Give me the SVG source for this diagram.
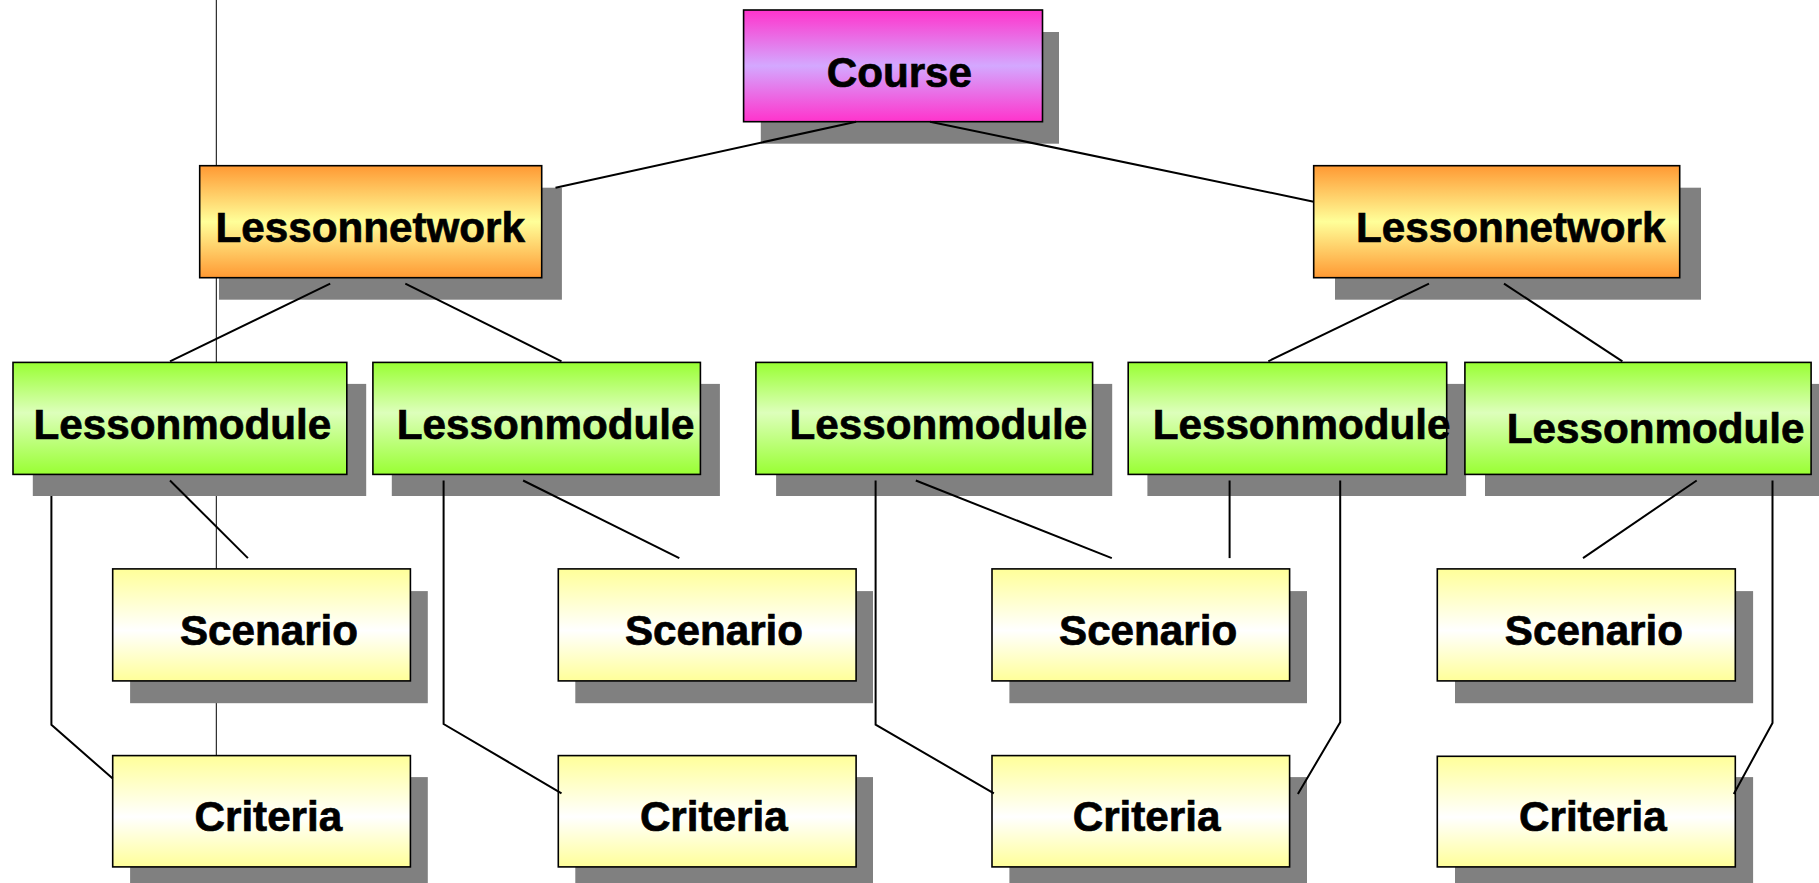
<svg xmlns="http://www.w3.org/2000/svg" width="1819" height="883" viewBox="0 0 1819 883">
<defs>
<linearGradient id="gCourse" x1="0" y1="0" x2="0" y2="1">
<stop offset="0" stop-color="#FF33CC"/><stop offset="0.5" stop-color="#D4A8FF"/><stop offset="1" stop-color="#FF33CC"/>
</linearGradient>
<linearGradient id="gNet" x1="0" y1="0" x2="0" y2="1">
<stop offset="0" stop-color="#FF9933"/><stop offset="0.5" stop-color="#FFFF99"/><stop offset="1" stop-color="#FF9933"/>
</linearGradient>
<linearGradient id="gMod" x1="0" y1="0" x2="0" y2="1">
<stop offset="0" stop-color="#99FF33"/><stop offset="0.45" stop-color="#DDFFBB"/><stop offset="1" stop-color="#99FF33"/>
</linearGradient>
<linearGradient id="gLeaf" x1="0" y1="0" x2="0" y2="1">
<stop offset="0" stop-color="#FFFF99"/><stop offset="0.55" stop-color="#FFFFFF"/><stop offset="1" stop-color="#FFFF99"/>
</linearGradient>
</defs>
<style>
.sh{fill:#808080}
.bx{stroke:#000;stroke-width:1.6}
.t{font-family:"Liberation Sans",Arial,sans-serif;font-weight:bold;font-size:42.2px;fill:#000;stroke:#000;stroke-width:0.7}
.c line,.c polyline{stroke:#000;stroke-width:2;fill:none}
</style>
<rect width="1819" height="883" fill="#fff"/>
<line x1="216.3" y1="0" x2="216.3" y2="883" stroke="#000" stroke-width="1"/>

<g id="course">
<rect class="sh" x="760.8" y="32" width="298.2" height="111.7"/>
<rect class="bx" x="743.6" y="10" width="298.9" height="111.7" fill="url(#gCourse)"/>
<text class="t" x="826.7" y="87.3">Course</text>
</g>

<g id="lessonnetwork1">
<rect class="sh" x="219" y="187.7" width="342.9" height="112"/>
<rect class="bx" x="199.7" y="165.7" width="342" height="112" fill="url(#gNet)"/>
<text class="t" x="215.5" y="242.3">Lessonnetwork</text>
</g>
<g id="lessonnetwork2">
<rect class="sh" x="1335" y="187.7" width="366" height="112"/>
<rect class="bx" x="1313.7" y="165.7" width="366" height="112" fill="url(#gNet)"/>
<text class="t" x="1356" y="242.3">Lessonnetwork</text>
</g>

<g id="lessonmodule1">
<rect class="sh" x="32.8" y="383.9" width="333.4" height="112.1"/>
<rect class="bx" x="13" y="362.4" width="333.8" height="112" fill="url(#gMod)"/>
<text class="t" x="33.6" y="438.5">Lessonmodule</text>
</g>
<g id="lessonmodule2">
<rect class="sh" x="391.8" y="383.9" width="328.1" height="112.1"/>
<rect class="bx" x="372.9" y="362.4" width="327.5" height="112" fill="url(#gMod)"/>
<text class="t" x="396.8" y="438.5">Lessonmodule</text>
</g>
<g id="lessonmodule3">
<rect class="sh" x="776.1" y="383.9" width="336.1" height="112.1"/>
<rect class="bx" x="755.9" y="362.4" width="336.7" height="112" fill="url(#gMod)"/>
<text class="t" x="789.5" y="438.5">Lessonmodule</text>
</g>
<g id="lessonmodule4">
<rect class="sh" x="1147.4" y="383.9" width="318.7" height="112.1"/>
<rect class="bx" x="1128.2" y="362.4" width="318.5" height="112" fill="url(#gMod)"/>
<text class="t" x="1152.7" y="438.5">Lessonmodule</text>
</g>
<g id="lessonmodule5">
<rect class="sh" x="1485" y="383.9" width="340" height="112.1"/>
<rect class="bx" x="1464.9" y="362.4" width="346.2" height="112" fill="url(#gMod)"/>
<text class="t" x="1506.8" y="443.2">Lessonmodule</text>
</g>

<g id="scenario1">
<rect class="sh" x="130.1" y="591.1" width="297.7" height="112.1"/>
<rect class="bx" x="112.7" y="568.9" width="297.7" height="112" fill="url(#gLeaf)"/>
<text class="t" x="179.9" y="645">Scenario</text>
</g>
<g id="scenario2">
<rect class="sh" x="575.3" y="591.1" width="297.7" height="112.1"/>
<rect class="bx" x="558.3" y="568.9" width="297.8" height="112" fill="url(#gLeaf)"/>
<text class="t" x="624.9" y="645">Scenario</text>
</g>
<g id="scenario3">
<rect class="sh" x="1009.4" y="591.1" width="297.6" height="112.1"/>
<rect class="bx" x="992" y="568.9" width="297.6" height="112" fill="url(#gLeaf)"/>
<text class="t" x="1059" y="645">Scenario</text>
</g>
<g id="scenario4">
<rect class="sh" x="1455" y="591.1" width="298.1" height="112.1"/>
<rect class="bx" x="1437.3" y="568.9" width="298" height="112" fill="url(#gLeaf)"/>
<text class="t" x="1504.8" y="645">Scenario</text>
</g>

<g id="criteria1">
<rect class="sh" x="130.1" y="777.1" width="297.7" height="112"/>
<rect class="bx" x="112.7" y="755.6" width="297.7" height="111.3" fill="url(#gLeaf)"/>
<text class="t" x="194.5" y="830.6">Criteria</text>
</g>
<g id="criteria2">
<rect class="sh" x="575.3" y="777.1" width="297.7" height="112"/>
<rect class="bx" x="558.3" y="755.6" width="297.8" height="111.3" fill="url(#gLeaf)"/>
<text class="t" x="639.9" y="830.6">Criteria</text>
</g>
<g id="criteria3">
<rect class="sh" x="1009.4" y="777.1" width="297.6" height="112"/>
<rect class="bx" x="992" y="755.6" width="297.6" height="111.3" fill="url(#gLeaf)"/>
<text class="t" x="1072.7" y="830.6">Criteria</text>
</g>
<g id="criteria4">
<rect class="sh" x="1455" y="777.1" width="298.1" height="112"/>
<rect class="bx" x="1437.3" y="756.3" width="298" height="110.6" fill="url(#gLeaf)"/>
<text class="t" x="1519" y="830.6">Criteria</text>
</g>

<g id="connectors" class="c">
<line x1="856.1" y1="121.7" x2="555.5" y2="187.7"/>
<line x1="930" y1="121.7" x2="1313.7" y2="201.7"/>
<line x1="330.2" y1="283.7" x2="170" y2="361.3"/>
<line x1="405.3" y1="283.7" x2="561.5" y2="361.3"/>
<line x1="1429" y1="283.7" x2="1268.3" y2="361.3"/>
<line x1="1504" y1="283.7" x2="1622.4" y2="361.3"/>
<line x1="170" y1="480.5" x2="247.9" y2="558.1"/>
<polyline points="51.4,496 51.4,724.7 112.7,778.6"/>
<line x1="523.1" y1="480.5" x2="679.3" y2="558.1"/>
<polyline points="443.6,480.5 443.6,724 561.5,793.3"/>
<line x1="915.8" y1="480.5" x2="1111.8" y2="558.1"/>
<polyline points="875.6,480.5 875.6,724.7 993.9,793.3"/>
<line x1="1229.6" y1="480.5" x2="1229.6" y2="558.1"/>
<polyline points="1340.2,480.5 1340.2,722.2 1297.9,794"/>
<line x1="1696.7" y1="480.5" x2="1583" y2="558.1"/>
<polyline points="1772.5,480.5 1772.5,722.9 1733.8,794"/>
</g>
</svg>
